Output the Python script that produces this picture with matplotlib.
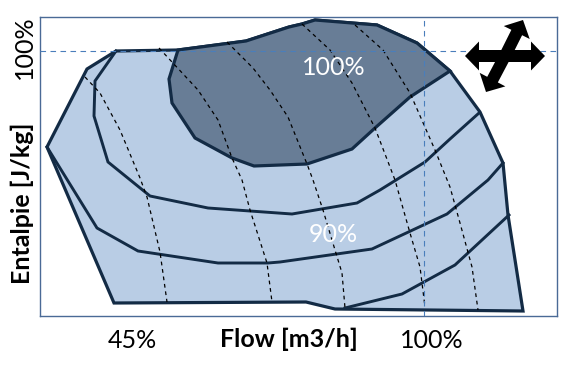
import matplotlib
matplotlib.use("Agg")
import matplotlib.pyplot as plt
from matplotlib.patches import Polygon, FancyArrow

plt.rcParams['font.family'] = ['Lato', 'DejaVu Sans']

# Map coordinates (flow axis x, enthalpy axis y; y grows downward)
outer_x = [116, 178, 246, 289, 302, 315, 377, 417, 450, 480, 503, 508, 523, 335, 306, 114, 47, 87]
outer_y = [51, 50, 41, 27, 24, 20, 25, 43, 71, 112, 163, 215, 311, 309, 302, 303, 147, 69]

core_x = [178, 246, 289, 302, 315, 377, 417, 450, 410, 375, 352, 307, 254, 232, 195, 172, 169]
core_y = [50, 41, 27, 24, 20, 25, 43, 71, 97, 128, 149, 164, 166, 158, 138, 103, 79]

speedA_x = [116, 95, 94, 108, 150, 208, 292, 357, 380, 425, 450, 479]
speedA_y = [51, 81, 116, 162, 196, 208, 214, 203, 190, 162, 139, 113]
speedB_x = [47, 97, 138, 218, 268, 280, 372, 447, 488, 503]
speedB_y = [147, 228, 251, 263, 263, 262, 249, 214, 180, 163]
speedC_x = [345, 402, 455, 509]
speedC_y = [308, 294, 265, 215]

d1_x = [85, 100, 120, 140, 147, 160, 167]
d1_y = [77, 93, 130, 178, 197, 252, 302]
d2_x = [159, 198, 218, 232, 242, 250, 267, 272]
d2_y = [48, 90, 120, 158, 180, 210, 263, 302]
d3_x = [227, 253, 270, 288, 307, 313, 323, 335, 342, 345]
d3_y = [42, 68, 90, 117, 164, 180, 210, 250, 273, 308]
d4_x = [302, 330, 352, 375, 395, 410, 420, 425]
d4_y = [24, 50, 83, 128, 180, 233, 267, 307]
d5_x = [355, 383, 410, 435, 450, 460, 472, 478]
d5_y = [25, 50, 93, 150, 187, 223, 267, 310]

ref_x = 424        # 100% flow
ref_y = 51         # 100% enthalpy
xtick_pos = [132, 432]
xtick_labels = ['45%', '100%']
ytick_pos = [47]
ytick_labels = ['100%']
labels_in = [(334, 68, '100%'), (333, 234, '90%')]

light = '#b9cde5'
dark = '#687d96'
edge = '#132b45'
spine = '#4a6a96'
refc = '#4a7ebb'
FS = 18

fig = plt.figure(figsize=(5.69, 3.67), dpi=100)
ax = fig.add_axes([40/569, 1-316/367, 517/569, 299/367])
ax.set_xlim(40, 557)
ax.set_ylim(316, 17)

ax.add_patch(Polygon(list(zip(outer_x, outer_y)), closed=True, facecolor=light,
                     edgecolor=edge, lw=2.3, joinstyle='miter', zorder=2))
ax.add_patch(Polygon(list(zip(core_x, core_y)), closed=True, facecolor=dark,
                     edgecolor=edge, lw=2.3, zorder=3))
for xs, ys in [(speedA_x, speedA_y), (speedB_x, speedB_y), (speedC_x, speedC_y)]:
    ax.plot(xs, ys, color=edge, lw=2.1, zorder=4, solid_joinstyle='miter')
for xs, ys in [(d1_x, d1_y), (d2_x, d2_y), (d3_x, d3_y), (d4_x, d4_y), (d5_x, d5_y)]:
    ax.plot(xs, ys, color='black', lw=0.9, ls=(0, (3, 3)), zorder=5)

ax.axhline(ref_y, color=refc, lw=0.8, ls=(0, (5, 4)), zorder=6)
ax.axvline(ref_x, color=refc, lw=0.8, ls=(0, (5, 4)), zorder=6)

for x, y, t in labels_in:
    ax.text(x, y, t, color='white', fontsize=FS, ha='center', va='center', zorder=7)

# arrow cross
cx, cy = 505, 56
for dx, dy in [(-40, 0), (40, 0), (18, -36), (-19, 36)]:
    ax.add_patch(FancyArrow(cx, cy, dx, dy, width=12, head_width=29, head_length=14,
                            length_includes_head=True, color='black', lw=0, zorder=8))

for s in ax.spines.values():
    s.set_color(spine)
    s.set_linewidth(1.0)

ax.set_xticks(xtick_pos)
ax.set_xticklabels(xtick_labels, fontsize=FS)
ax.set_yticks(ytick_pos)
ax.set_yticklabels(ytick_labels, fontsize=FS, rotation=90, va='center')
ax.tick_params(axis='x', length=0, pad=9)
ax.tick_params(axis='y', length=0, pad=3)

ax.set_xlabel('Flow [m3/h]', fontsize=FS, fontweight='bold')
ax.xaxis.set_label_coords((289-40)/517, (316-339)/299)
ax.set_ylabel('Entalpie [J/kg]', fontsize=FS, fontweight='bold')
ax.yaxis.set_label_coords((22-40)/517, (316-203)/299)
ax.xaxis.label.set_va('center')
ax.yaxis.label.set_va('center')

fig.savefig('out.png', dpi=100)
